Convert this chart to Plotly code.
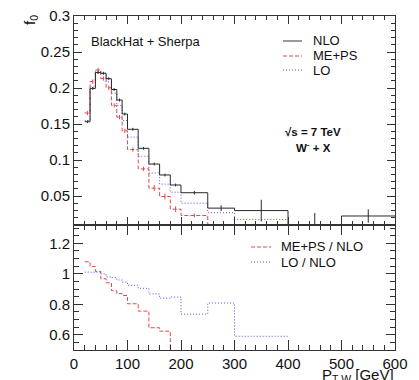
import plotly.graph_objects as go

# ---- data ----
edges = [20, 30, 40, 50, 60, 70, 80, 90, 100, 120, 140, 160, 180, 200, 250, 300, 400, 500, 600]
nlo = [0.1533, 0.1995, 0.2215, 0.2205, 0.2130, 0.1980, 0.1834, 0.1640, 0.1428, 0.1164,
       0.0946, 0.0794, 0.0655, 0.0548, 0.0334, 0.0300, 0.0105, 0.0225]
nlo_err = [0.002, 0.002, 0.002, 0.002, 0.002, 0.002, 0.002, 0.002, 0.002, 0.002,
           0.002, 0.002, 0.002, 0.0025, 0.004, 0.015, 0.016, 0.0093]
meps = [0.1654, 0.2089, 0.2250, 0.2133, 0.2004, 0.1760, 0.1596, 0.1407, 0.1147, 0.0879,
        0.0611, 0.0495, 0.0320, 0.0232, 0.0050]
meps_err = [0.003, 0.003, 0.003, 0.003, 0.003, 0.003, 0.003, 0.003, 0.003, 0.003,
            0.004, 0.004, 0.004, 0.0025, 0.002]
lo = [0.1550, 0.2015, 0.2240, 0.2205, 0.2087, 0.1930, 0.1760, 0.1550, 0.1320, 0.1053,
      0.0821, 0.0667, 0.0555, 0.0403, 0.0270, 0.0177]

ratio_meps = [m / n for m, n in zip(meps, nlo)]
ratio_lo = [l / n for l, n in zip(lo, nlo)]

FONT = "Liberation Sans, Arial, Helvetica, sans-serif"
BLACK = "#2a2a2a"
RED = "#e5484d"
BLUE = "#5252dc"


def step(vals):
    n = len(vals)
    xs = edges[:n] + [edges[n]]
    ys = list(vals) + [vals[-1]]
    return xs, ys


def centers(n):
    return [(edges[i] + edges[i + 1]) / 2 for i in range(n)]


fig = go.Figure()

# top panel
x, y = step(lo)
fig.add_trace(go.Scatter(x=x, y=y, mode="lines", line=dict(shape="hv", color=BLUE, width=1, dash="1px,2px"),
                         xaxis="x", yaxis="y", hoverinfo="skip"))
x, y = step(meps)
fig.add_trace(go.Scatter(x=x, y=y, mode="lines", line=dict(shape="hv", color=RED, width=1, dash="4px,2px"),
                         xaxis="x", yaxis="y", hoverinfo="skip"))
fig.add_trace(go.Scatter(x=centers(len(meps)), y=meps, mode="markers", marker=dict(size=1, color=RED, opacity=0),
                         error_y=dict(type="data", array=meps_err, color=RED, thickness=1, width=0),
                         xaxis="x", yaxis="y", hoverinfo="skip"))
x, y = step(nlo)
fig.add_trace(go.Scatter(x=x, y=y, mode="lines", line=dict(shape="hv", color=BLACK, width=1),
                         xaxis="x", yaxis="y", hoverinfo="skip"))
fig.add_trace(go.Scatter(x=centers(len(nlo)), y=nlo, mode="markers", marker=dict(size=1, color=BLACK, opacity=0),
                         error_y=dict(type="data", array=nlo_err, color=BLACK, thickness=1, width=0),
                         xaxis="x", yaxis="y", hoverinfo="skip"))

# ratio panel
x, y = step(ratio_lo)
fig.add_trace(go.Scatter(x=x, y=y, mode="lines", line=dict(shape="hv", color=BLUE, width=1, dash="1px,2px"),
                         xaxis="x2", yaxis="y2", hoverinfo="skip"))
x, y = step(ratio_meps)
fig.add_trace(go.Scatter(x=x, y=y, mode="lines", line=dict(shape="hv", color=RED, width=1, dash="4px,2px"),
                         xaxis="x2", yaxis="y2", hoverinfo="skip"))

split = 125 / 334
axis_common = dict(showline=True, linecolor="#333", linewidth=1, mirror="ticks", ticks="inside",
                   tickcolor="#333", showgrid=False, zeroline=False, automargin=False,
                   tickfont=dict(family=FONT, size=15, color="#111"))

fig.update_layout(
    width=419, height=380,
    margin=dict(l=74, r=24, t=16, b=30, autoexpand=False),
    paper_bgcolor="white", plot_bgcolor="white",
    showlegend=False,
    xaxis=dict(domain=[0, 1], anchor="y", range=[0, 600], tick0=0, dtick=100, ticklen=8,
               showticklabels=False,
               minor=dict(ticks="inside", ticklen=4, dtick=20, tickcolor="#333"), **axis_common),
    yaxis=dict(domain=[split, 1], anchor="x", range=[0.01, 0.3], tick0=0, dtick=0.05, ticklen=8,
               minor=dict(ticks="inside", ticklen=4, dtick=0.01, tickcolor="#333"), **axis_common),
    xaxis2=dict(domain=[0, 1], anchor="y2", range=[0, 600], tick0=0, dtick=100, ticklen=10,
                ticklabelstandoff=0,
                minor=dict(ticks="inside", ticklen=5, dtick=20, tickcolor="#333"), **axis_common),
    yaxis2=dict(domain=[0, split], anchor="x2", range=[0.5, 1.32], tick0=0, dtick=0.2, ticklen=9,
                minor=dict(ticks="inside", ticklen=5, dtick=0.05, tickcolor="#333"), **axis_common),
)

W, H, L = 321.0, 334.0, 74.0


def px(xp):
    return (xp - L) / W


def py(yp):
    return (350 - yp) / H


annots = [
    dict(text="f<sub>0</sub>", x=px(31), y=py(20), textangle=-90, font=dict(size=15)),
    dict(text="BlackHat + Sherpa", x=px(90), y=py(42), xanchor="left", font=dict(size=13)),
    dict(text="<b>√s = 7 TeV</b>", x=px(313), y=py(132), font=dict(size=11.5)),
    dict(text="<b>W<sup>-</sup> + X</b>", x=px(313), y=py(147), font=dict(size=11.5)),
    dict(text="NLO", x=px(312), y=py(41), xanchor="left", font=dict(size=13)),
    dict(text="ME+PS", x=px(312), y=py(56), xanchor="left", font=dict(size=13)),
    dict(text="LO", x=px(312), y=py(70), xanchor="left", font=dict(size=13)),
    dict(text="ME+PS / NLO", x=px(280), y=py(247), xanchor="left", font=dict(size=13)),
    dict(text="LO / NLO", x=px(280), y=py(262), xanchor="left", font=dict(size=13)),
    dict(text="P<sub>T W</sub> [GeV]", x=1.0, y=py(365), xanchor="right", yanchor="top", font=dict(size=15)),
]
for a in annots:
    a.setdefault("xanchor", "center")
    a.setdefault("yanchor", "middle")
    a["font"] = dict(family=FONT, color="#111", **a["font"])
    fig.add_annotation(xref="paper", yref="paper", showarrow=False, borderpad=0, **a)

legend_lines = [
    (283, 302, 41, dict(color="#777", width=1.5)),
    (283, 302, 56, dict(color=RED, width=1, dash="4px,2px")),
    (283, 302, 70, dict(color=BLUE, width=1, dash="1px,2px")),
    (251, 271, 247, dict(color=RED, width=1, dash="4px,2px")),
    (251, 271, 262, dict(color=BLUE, width=1, dash="1px,2px")),
]
for x0, x1, yy, ln in legend_lines:
    fig.add_shape(type="line", xref="paper", yref="paper", x0=px(x0), x1=px(x1), y0=py(yy), y1=py(yy), line=ln)

fig.write_html("out.html")
